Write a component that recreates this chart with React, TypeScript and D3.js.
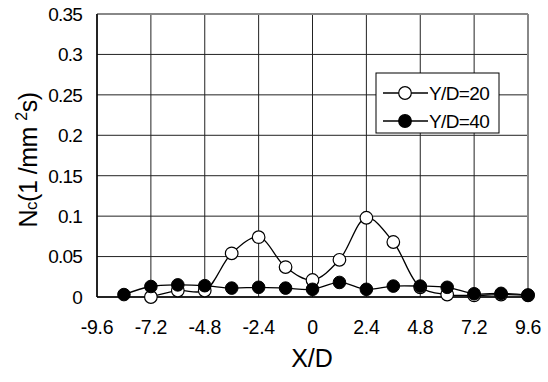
import React from "react";
import * as d3 from "d3";

const xPositions = [-8.4, -7.2, -6.0, -4.8, -3.6, -2.4, -1.2, 0, 1.2, 2.4, 3.6, 4.8, 6.0, 7.2, 8.4, 9.6];
const yd20 = [null, 0.0, 0.008, 0.008, 0.054, 0.074, 0.037, 0.021, 0.046, 0.098, 0.068, 0.012, 0.003, 0.002, 0.003, 0.002];
const yd40 = [0.003, 0.013, 0.015, 0.014, 0.011, 0.012, 0.011, 0.0095, 0.018, 0.0095, 0.0135, 0.0135, 0.012, 0.004, 0.0045, 0.0025];
const xTicks = [-9.6, -7.2, -4.8, -2.4, 0, 2.4, 4.8, 7.2, 9.6];
const yTicks = [0, 0.05, 0.1, 0.15, 0.2, 0.25, 0.3, 0.35];
const seriesNames = ["Y/D=20", "Y/D=40"];

const W = 548;
const H = 382;
const plot = { left: 97, right: 528, top: 14, bottom: 297 };
const font = "Arial, 'Liberation Sans', sans-serif";

export default function App() {
  const x = d3.scaleLinear().domain([-9.6, 9.6]).range([plot.left, plot.right]);
  const y = d3.scaleLinear().domain([0, 0.35]).range([plot.bottom, plot.top]);

  const line = d3
    .line<[number, number | null]>()
    .defined((d) => d[1] !== null)
    .x((d) => x(d[0]))
    .y((d) => y(d[1] as number))
    .curve(d3.curveCatmullRom.alpha(0.5));

  const s20 = xPositions.map((v, i) => [v, yd20[i]] as [number, number | null]);
  const s40 = xPositions.map((v, i) => [v, yd40[i]] as [number, number | null]);

  const fmt = (v: number) => String(v);

  return (
    <svg
      width={W}
      height={H}
      style={{ position: "absolute", left: 0, top: 0, background: "#fff" }}
      fontFamily={font}
    >
      {/* grid */}
      {yTicks.map((t) => (
        <line key={"gy" + t} x1={plot.left} x2={plot.right} y1={y(t)} y2={y(t)} stroke="#222" strokeWidth={1} />
      ))}
      {xTicks.map((t) => (
        <line key={"gx" + t} x1={x(t)} x2={x(t)} y1={plot.top} y2={plot.bottom} stroke="#222" strokeWidth={1} />
      ))}
      {/* frame */}
      <line x1={plot.left} x2={plot.right} y1={plot.top} y2={plot.top} stroke="#888" strokeWidth={2} />
      <line x1={plot.right} x2={plot.right} y1={plot.top} y2={plot.bottom} stroke="#888" strokeWidth={2} />
      <line x1={plot.left} x2={plot.left} y1={plot.top} y2={plot.bottom} stroke="#000" strokeWidth={1.5} />
      <line x1={plot.left} x2={plot.right} y1={plot.bottom} y2={plot.bottom} stroke="#000" strokeWidth={1.5} />

      {/* y tick labels */}
      {yTicks.map((t) => (
        <text key={"ty" + t} x={82} y={y(t)} dy="0.36em" textAnchor="end" fontSize={19} fill="#000" letterSpacing={-0.8}>
          {fmt(t)}
        </text>
      ))}
      {/* x tick labels */}
      {xTicks.map((t) => (
        <text key={"tx" + t} x={x(t)} y={334} textAnchor="middle" fontSize={19.5} fill="#000" letterSpacing={-0.3}>
          {fmt(t)}
        </text>
      ))}

      {/* axis titles */}
      <text x={312} y={367} textAnchor="middle" fontSize={25} fill="#000">X/D</text>
      <text transform={`translate(37,160) rotate(-90)`} textAnchor="middle" fontSize={25} fill="#000" letterSpacing={-0.5}>
        N<tspan fontSize={17}>c</tspan>(1 /mm <tspan fontSize={16} dy={-10}>2</tspan><tspan dy={10}>s)</tspan>
      </text>

      {/* series */}
      <path d={line(s20) ?? ""} fill="none" stroke="#000" strokeWidth={1.3} />
      {s20.filter((d) => d[1] !== null).map((d, i) => (
        <circle key={"o" + i} cx={x(d[0])} cy={y(d[1] as number)} r={6.3} fill="#fff" stroke="#000" strokeWidth={1.2} />
      ))}
      <path d={line(s40) ?? ""} fill="none" stroke="#000" strokeWidth={1.3} />
      {s40.map((d, i) => (
        <circle key={"f" + i} cx={x(d[0])} cy={y(d[1] as number)} r={6.3} fill="#000" stroke="#000" strokeWidth={1} />
      ))}

      {/* legend */}
      <rect x={376} y={73} width={123} height={60} fill="#fff" stroke="#000" strokeWidth={1} />
      {seriesNames.map((name, i) => {
        const ly = 93 + i * 28;
        return (
          <g key={name}>
            <line x1={383} x2={428} y1={ly} y2={ly} stroke="#000" strokeWidth={1.3} />
            <circle cx={405} cy={ly} r={6.3} fill={i === 0 ? "#fff" : "#000"} stroke="#000" strokeWidth={1.2} />
            <text x={429} y={ly} dy="0.36em" fontSize={19} fill="#000" letterSpacing={-0.6}>
              {name}
            </text>
          </g>
        );
      })}
    </svg>
  );
}
